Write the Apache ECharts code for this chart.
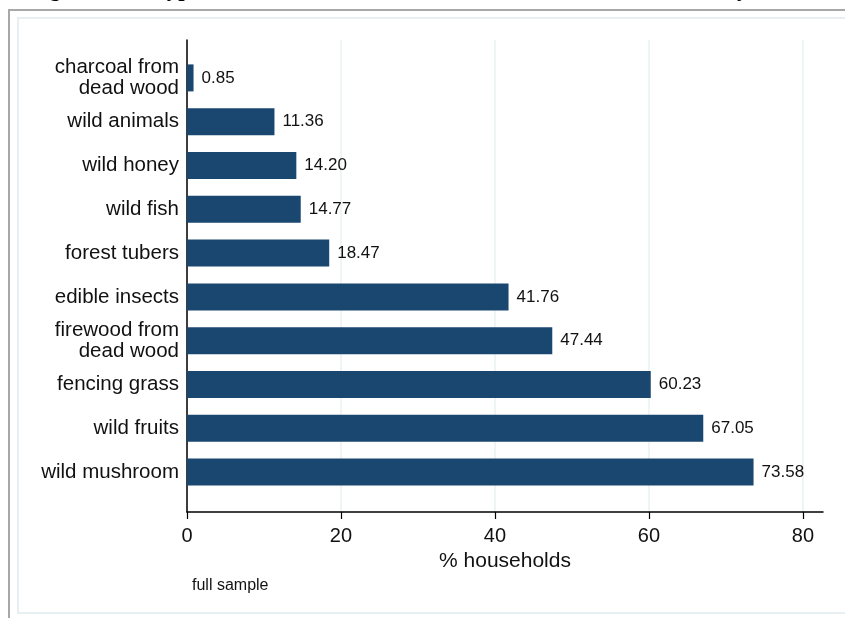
<!DOCTYPE html>
<html>
<head>
<meta charset="utf-8">
<title>forest products</title>
<script src="https://cdn.jsdelivr.net/npm/echarts@6/dist/echarts.min.js"></script>
<style>
  html, body { margin: 0; padding: 0; background: #fff; }
  #chart { width: 845px; height: 618px; }
</style>
</head>
<body>
<div id="chart"></div>
<script>
// categories top to bottom
var products = [
  'charcoal from\ndead wood',
  'wild animals',
  'wild honey',
  'wild fish',
  'forest tubers',
  'edible insects',
  'firewood from\ndead wood',
  'fencing grass',
  'wild fruits',
  'wild mushroom'
];
var sharePct = [0.85, 11.36, 14.20, 14.77, 18.47, 41.76, 47.44, 60.23, 67.05, 73.58];
var xTicks = [0, 20, 40, 60, 80];

var xMax = 82.6;
var navy = '#1a476f';
var sans = '"Liberation Sans", Arial, sans-serif';

var mychart = echarts.init(document.getElementById('chart'));

var option = {
  animation: false,
  backgroundColor: '#fff',
  grid: [
    // bars
    { left: 187, right: 22, top: 56, bottom: 124 },
    // axis frame
    { left: 187, right: 22, top: 40, bottom: 106 }
  ],
  xAxis: [
    { gridIndex: 0, type: 'value', min: 0, max: xMax, show: false },
    {
      gridIndex: 1, type: 'value', min: 0, max: xMax,
      name: '% households', nameLocation: 'middle', nameGap: 30,
      nameTextStyle: { fontFamily: sans, fontSize: 21, color: '#111' },
      axisLine: { show: true, lineStyle: { color: '#000', width: 1.5 } },
      axisTick: { show: true, length: 7, customValues: xTicks, lineStyle: { color: '#000', width: 1.2 } },
      axisLabel: {
        fontFamily: sans, fontSize: 20, color: '#111', margin: 14,
        customValues: xTicks
      },
      splitLine: { show: true, lineStyle: { color: '#eaf0f4', width: 1.5 } }
    }
  ],
  yAxis: [
    {
      gridIndex: 0, type: 'category', data: products, inverse: true,
      axisLine: { show: false },
      axisTick: { show: false },
      axisLabel: {
        fontFamily: sans, fontSize: 20.5, color: '#111', margin: 8,
        lineHeight: 21, align: 'right'
      }
    },
    {
      gridIndex: 1, type: 'value', min: 0, max: 1,
      axisLine: { show: true, lineStyle: { color: '#000', width: 1.5 } },
      axisTick: { show: false },
      axisLabel: { show: false },
      splitLine: { show: false }
    }
  ],
  series: [{
    type: 'bar',
    xAxisIndex: 0,
    yAxisIndex: 0,
    data: sharePct,
    barWidth: 27,
    itemStyle: { color: navy },
    label: {
      show: true, position: 'right', distance: 8,
      fontFamily: sans, fontSize: 17, color: '#111',
      formatter: function (p) { return p.value.toFixed(2); }
    }
  }],
  graphic: [
    {
      // title cut off by the top edge, only descenders show
      type: 'text', left: 29, top: -21, silent: true,
      style: {
        text: 'Figure 4.10: Types of non-timber forest resources collected from forest by households',
        font: 'bold 23px "Liberation Serif", serif', fill: '#000'
      }
    },
    {
      type: 'polyline', silent: true,
      shape: { points: [[9, 618], [9, 10], [845, 10]] },
      style: { stroke: '#a8a8a8', lineWidth: 2, fill: null }
    },
    {
      type: 'rect', silent: true,
      shape: { x: 18, y: 18, width: 900, height: 595 },
      style: { stroke: '#e8eff2', lineWidth: 2, fill: null }
    },
    {
      type: 'text', left: 192, top: 578, silent: true,
      style: { text: 'full sample', font: '16px "Liberation Sans", sans-serif', fill: '#111' }
    }
  ]
};

mychart.setOption(option);
</script>
</body>
</html>
